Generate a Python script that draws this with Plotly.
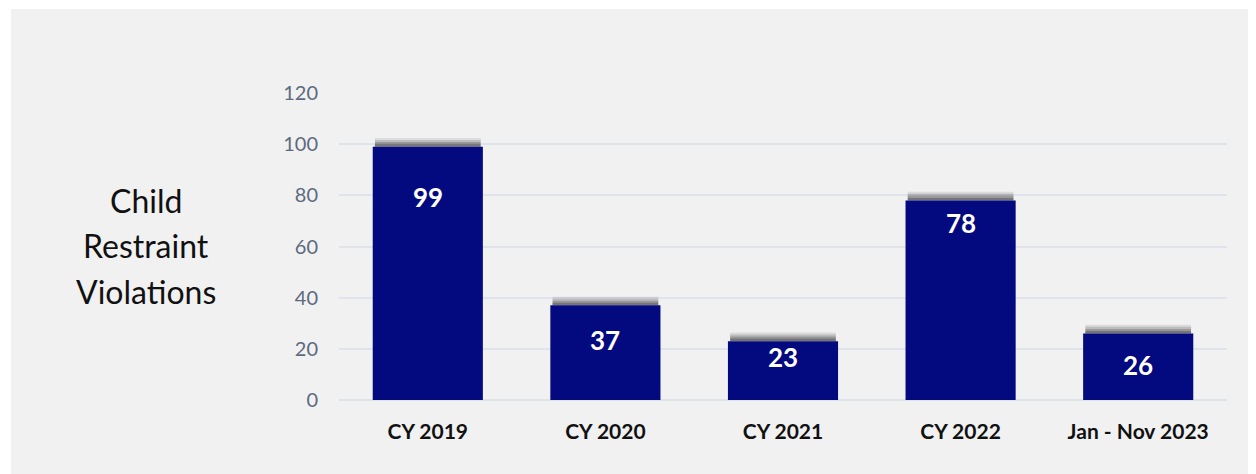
import plotly.graph_objects as go

categories = ["CY 2019", "CY 2020", "CY 2021", "CY 2022", "Jan - Nov 2023"]
values = [99, 37, 23, 78, 26]
label_pos = [79.4, 23.5, 16.8, 69.2, 13.7]
y_ticks = [0, 20, 40, 60, 80, 100, 120]

BAR = "#03097f"
W = 0.62

# figure geometry (page has an 8px body margin)
FW, FH = 1248, 466
L, R, T, B = 331, 29, 85, 74
PW, PH = FW - L - R, FH - T - B
def px(x):
    return (x - L) / PW
def py(y):
    return (T + PH - y) / PH

fig = go.Figure()

# soft shadow above each bar (layers stacked on the bar top)
for h, a in [(3.4, 0.10), (2.6, 0.16), (1.8, 0.22), (1.0, 0.28)]:
    fig.add_trace(go.Bar(
        x=categories, y=[h] * len(values), base=values, width=W * 0.96,
        marker=dict(color=f"rgba(30,30,30,{a})", line=dict(width=0)),
        hoverinfo="skip", showlegend=False,
    ))

fig.add_trace(go.Bar(
    x=categories, y=values, width=W,
    marker=dict(color=BAR, line=dict(width=0)),
    showlegend=False,
))

for c, v, p in zip(categories, values, label_pos):
    fig.add_annotation(x=c, y=p, text=f"<b>{v}</b>", showarrow=False,
                       font=dict(family="Lato", size=26, color="white"))

# left title
for i, line in enumerate(["Child", "Restraint", "Violations"]):
    fig.add_annotation(xref="paper", yref="paper",
                       x=px(138), y=py(192 + 45.5 * i),
                       xanchor="center", yanchor="middle",
                       text=line, showarrow=False,
                       font=dict(family="Lato", size=32, color="#111111"))

# gray panel
fig.add_shape(type="rect", xref="paper", yref="paper",
              x0=px(3), x1=px(FW), y0=py(FH), y1=py(1),
              fillcolor="#f1f1f1", line=dict(width=0), layer="below")

fig.update_layout(
    width=FW, height=FH,
    margin=dict(l=L, r=R, t=T, b=B),
    paper_bgcolor="white", plot_bgcolor="rgba(0,0,0,0)",
    barmode="overlay",
    xaxis=dict(showgrid=False, showline=False, ticks="",
               tickfont=dict(family="Lato", size=21, color="#111111", weight="bold"),
               ticklabelstandoff=17),
    yaxis=dict(range=[0, 120], tickvals=y_ticks, showgrid=True,
               gridcolor="#dfe4ec", gridwidth=1.5, zeroline=True,
               zerolinecolor="#dfe4ec", zerolinewidth=2, showline=False,
               tickfont=dict(family="Lato", size=20, color="#5c6a80"),
               ticklabelstandoff=20),
)

fig.write_html("out.html")
